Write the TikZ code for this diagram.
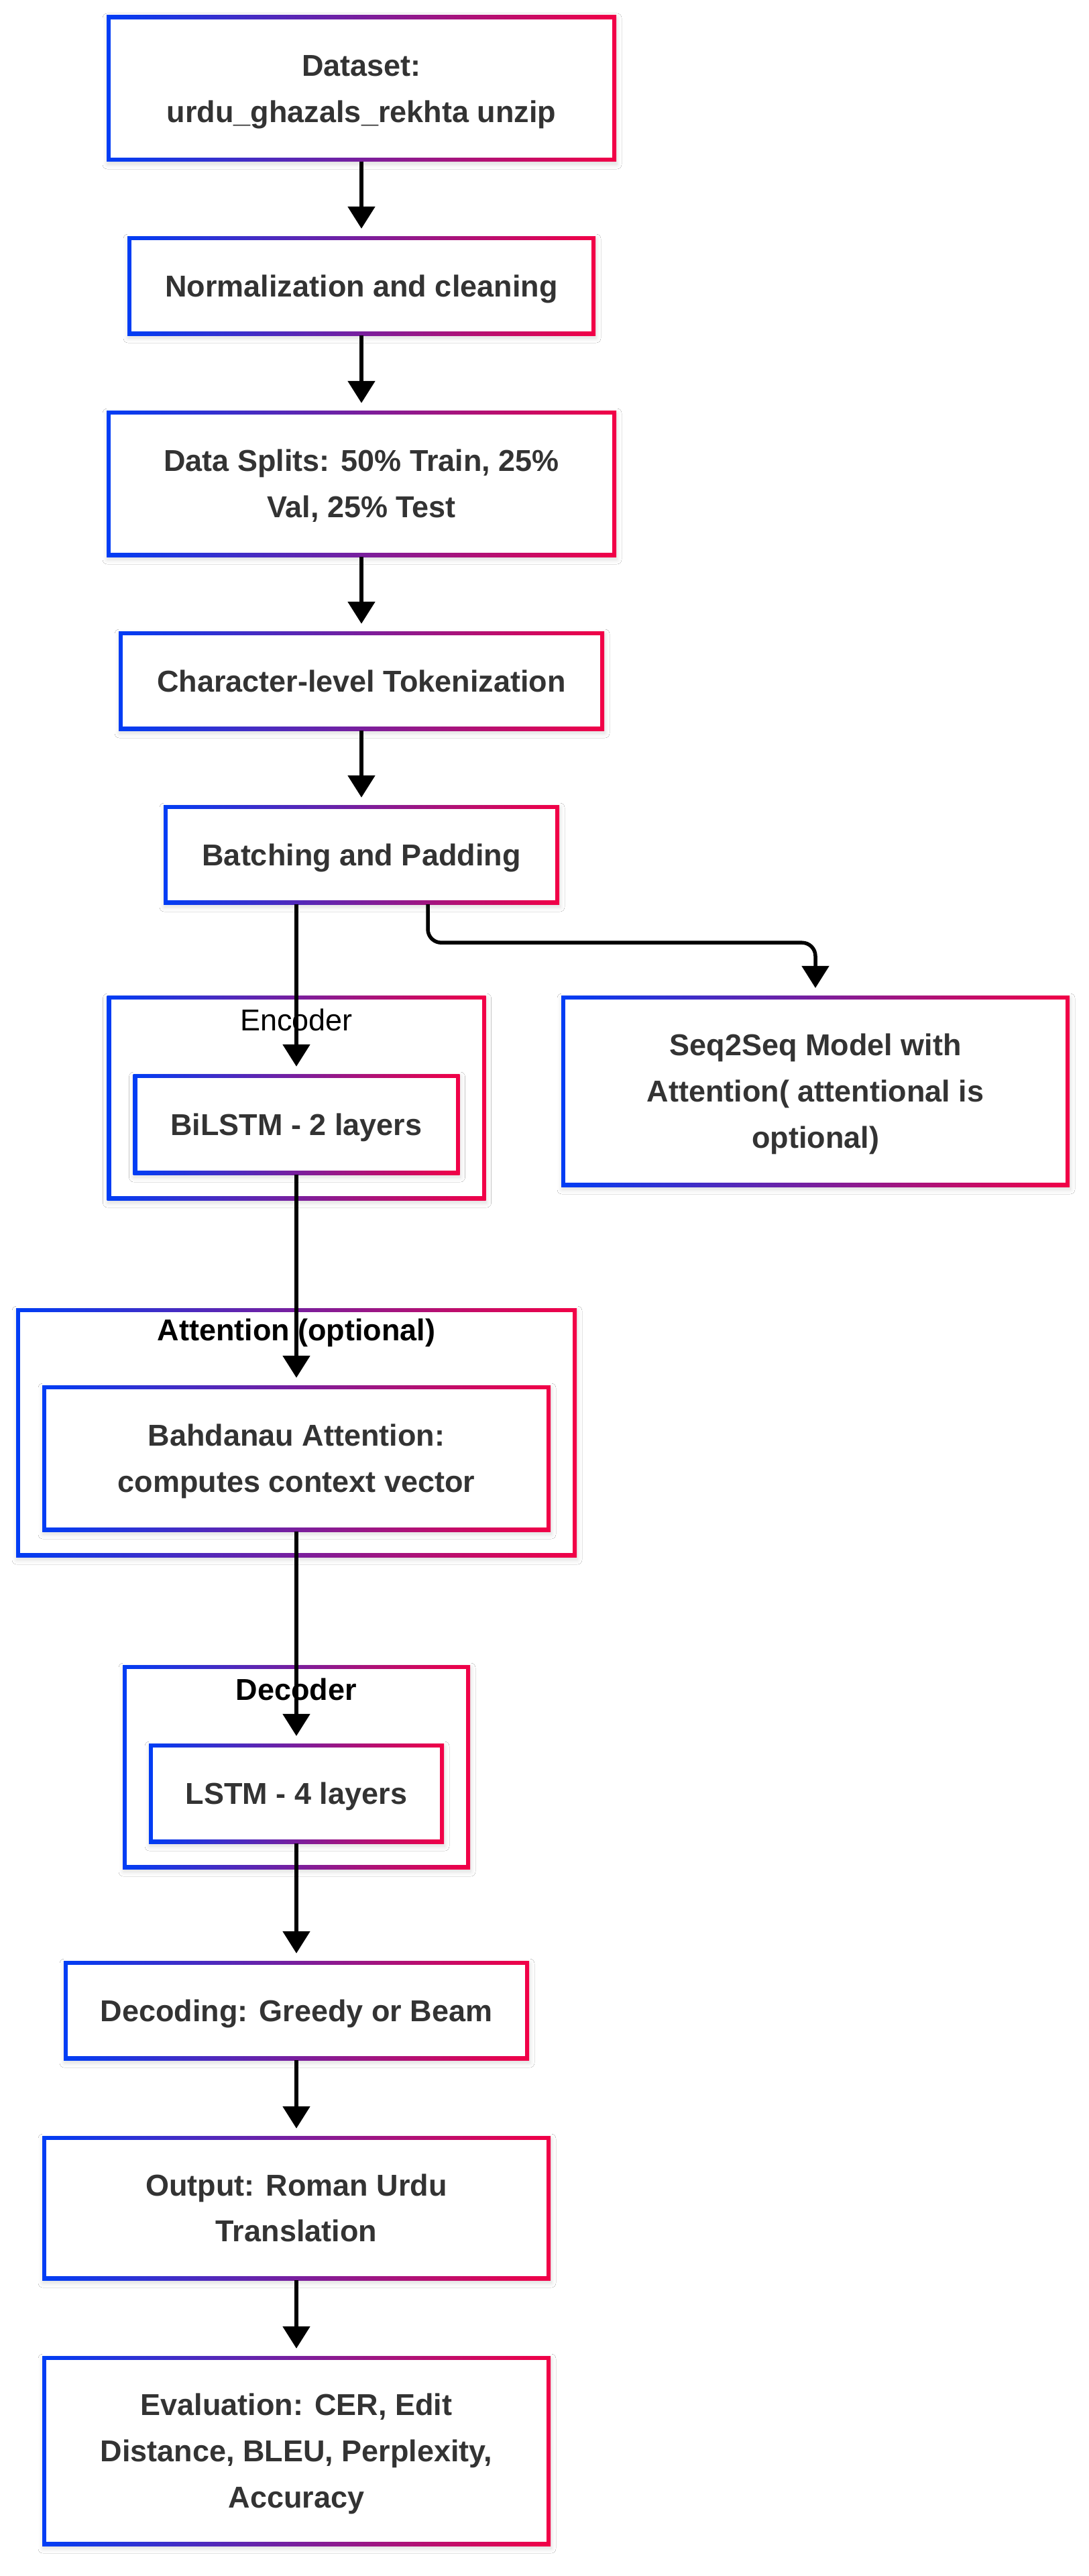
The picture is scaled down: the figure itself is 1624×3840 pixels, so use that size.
\documentclass[tikz,border=0pt]{standalone}
\usepackage{fontspec}
\setmainfont{Liberation Sans}
\usetikzlibrary{arrows.meta,shadows.blur,calc}
\definecolor{gblue}{RGB}{0,61,245}
\definecolor{gred}{RGB}{242,0,70}
\definecolor{txt}{RGB}{51,51,51}
\newcommand\myboxfont{\fontsize{45}{68.6}\selectfont\bfseries}
\newcommand\mylblfont{\fontsize{45}{54}\selectfont}
\newcommand\myst{\rule{0pt}{45pt}}
\tikzset{
  gbox/.style={rectangle, inner sep=0pt, fill=white, text=txt, font=\myboxfont, align=center,
    execute at begin node={\myst},
    execute at end node={\rule[-13pt]{0pt}{13pt}},
    blur shadow={shadow xshift=1pt, shadow yshift=-4pt, shadow blur radius=7pt, shadow opacity=14, shadow blur steps=6},
    path picture={
      \shade[left color=gblue, right color=gred]
        (path picture bounding box.south west) rectangle (path picture bounding box.north east);
      \fill[white]
        ([xshift=6pt,yshift=6pt]path picture bounding box.south west) rectangle
        ([xshift=-6pt,yshift=-6pt]path picture bounding box.north east);
    }},
  grplbl/.style={inner sep=0pt, text=black, font=\mylblfont},
  arr/.style={line width=5.5pt, draw=black, -{Triangle[width=40pt,length=33pt]}, shorten >=11pt},
}
\begin{document}
\begin{tikzpicture}[x=1pt,y=1pt]
\useasboundingbox (0,0) rectangle (1624,-3840);
\fill[white] (0,0) rectangle (1624,-3840);

% top column
\node[gbox, minimum width=760pt, minimum height=218pt] (ds) at (539,-132) {\myst Dataset:\\urdu\_ghazals\_rekhta unzip};
\node[gbox, minimum width=698pt, minimum height=148pt] (norm) at (539,-426) {Normalization and cleaning};
\node[gbox, minimum width=760pt, minimum height=218pt] (split) at (539,-721) {\myst Data Splits: 50\% Train, 25\%\\Val, 25\% Test};
\node[gbox, minimum width=724pt, minimum height=148pt] (tok) at (539,-1015) {Character-level Tokenization};
\node[gbox, minimum width=590pt, minimum height=148pt] (bat) at (539,-1274) {Batching and Padding};

% encoder group
\node[gbox, minimum width=565pt, minimum height=305pt] (encg) at (442,-1636.5) {};
\node[grplbl] (enclbl) at (442,-1520) {Encoder};
\node[gbox, minimum width=487pt, minimum height=150pt] (bil) at (442,-1676) {BiLSTM - 2 layers};

% seq2seq
\node[gbox, minimum width=758pt, minimum height=285pt] (s2s) at (1216,-1626.5) {\myst Seq2Seq Model with\\Attention( attentional is\\optional)};

% attention group
\node[gbox, minimum width=836pt, minimum height=371pt] (attg) at (442,-2135.5) {};
\node[grplbl, font=\mylblfont\bfseries] (attlbl) at (442,-1987) {Attention (optional)};
\node[gbox, minimum width=758pt, minimum height=218pt] (bah) at (442,-2174) {\myst Bahdanau Attention:\\computes context vector};

% decoder group
\node[gbox, minimum width=518pt, minimum height=304pt] (decg) at (442,-2634) {};
\node[grplbl, font=\mylblfont\bfseries] (declbl) at (442,-2518) {Decoder};
\node[gbox, minimum width=440pt, minimum height=149pt] (lstm) at (442,-2673.5) {LSTM - 4 layers};

% bottom column
\node[gbox, minimum width=694pt, minimum height=148pt] (dcd) at (442,-2997) {Decoding: Greedy or Beam};
\node[gbox, minimum width=758pt, minimum height=215pt] (out) at (442,-3291.5) {\myst Output: Roman Urdu\\Translation};
\node[gbox, minimum width=758pt, minimum height=283pt] (eval) at (442,-3653.5) {\myst Evaluation: CER, Edit\\Distance, BLEU, Perplexity,\\Accuracy};

% connectors
\draw[arr] (ds.south) -- (norm.north);
\draw[arr] (norm.south) -- (split.north);
\draw[arr] (split.south) -- (tok.north);
\draw[arr] (tok.south) -- (bat.north);
\draw[arr] (bat.south -| bil.north) -- (bil.north);
\draw[arr, rounded corners=20pt] ([xshift=99pt]bat.south) -- ++(0,-57) -| (s2s.north);
\draw[arr] (bil.south) -- (bah.north);
\draw[arr] (bah.south) -- (lstm.north);
\draw[arr] (lstm.south) -- (dcd.north);
\draw[arr] (dcd.south) -- (out.north);
\draw[arr] (out.south) -- (eval.north);
\end{tikzpicture}
\end{document}
